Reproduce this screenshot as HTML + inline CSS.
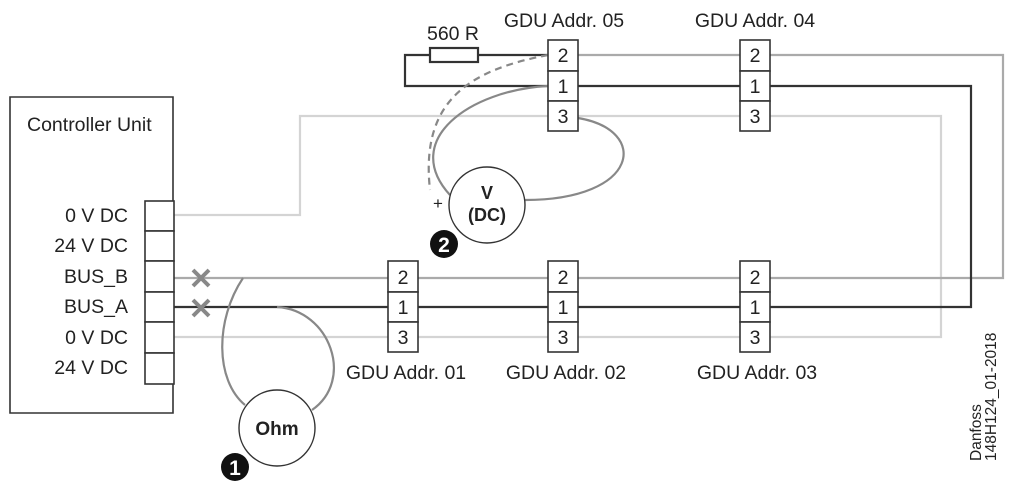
<!DOCTYPE html>
<html><head><meta charset="utf-8"><style>
html,body{margin:0;padding:0;background:#fff;}
svg{display:block;font-family:"Liberation Sans",sans-serif;}
</style></head><body>
<svg width="1024" height="488" viewBox="0 0 1024 488" xmlns="http://www.w3.org/2000/svg">
<g fill="none" stroke-width="2.2">
<polyline points="174,215 300,215 300,116 548,116" stroke="#d4d4d4"/>
<polyline points="578,116 740,116" stroke="#d4d4d4"/>
<polyline points="770,116 941,116 941,337 770,337" stroke="#d4d4d4"/>
<line x1="174" y1="337" x2="388" y2="337" stroke="#d4d4d4"/>
<line x1="418" y1="337" x2="548" y2="337" stroke="#d4d4d4"/>
<line x1="578" y1="337" x2="740" y2="337" stroke="#d4d4d4"/>
<line x1="174" y1="278" x2="388" y2="278" stroke="#aaa"/>
<line x1="418" y1="278" x2="548" y2="278" stroke="#aaa"/>
<line x1="578" y1="278" x2="740" y2="278" stroke="#aaa"/>
<polyline points="770,278 1003,278 1003,55 770,55" stroke="#aaa"/>
<line x1="578" y1="55" x2="740" y2="55" stroke="#aaa"/>
<line x1="174" y1="307" x2="388" y2="307" stroke="#333"/>
<line x1="418" y1="307" x2="548" y2="307" stroke="#333"/>
<line x1="578" y1="307" x2="740" y2="307" stroke="#333"/>
<polyline points="770,307 971,307 971,86 770,86" stroke="#333"/>
<line x1="578" y1="86" x2="740" y2="86" stroke="#333"/>
<polyline points="548,55 478,55" stroke="#333"/>
<polyline points="430,55 405,55 405,86 548,86" stroke="#333"/>
<rect x="430" y="48" width="48" height="14" stroke="#333" fill="#fff"/>
<path d="M548,55 C470,70 420,100 430,190" stroke="#888" stroke-dasharray="7,5"/>
<path d="M548,86 C470,90 400,140 450,195" stroke="#888"/>
<path d="M578,118 C650,130 640,200 525,200" stroke="#888"/>
<path d="M243,278 C215,320 215,380 245,405" stroke="#888"/>
<path d="M277,307 C330,310 355,380 312,410" stroke="#888"/>
</g>
<g stroke="#888" stroke-width="4">
<line x1="193" y1="270" x2="209" y2="286"/><line x1="209" y1="270" x2="193" y2="286"/>
<line x1="193" y1="300" x2="209" y2="316"/><line x1="209" y1="300" x2="193" y2="316"/>
</g>
<g fill="#fff" stroke="#333" stroke-width="1.6">
<path d="M173,201 V97 H10 V413 H173 V384" fill="none"/>
<rect x="145" y="201" width="29" height="30"/>
<rect x="145" y="231" width="29" height="30"/>
<rect x="145" y="261" width="29" height="31"/>
<rect x="145" y="292" width="29" height="30"/>
<rect x="145" y="322" width="29" height="31"/>
<rect x="145" y="353" width="29" height="31"/>
</g>
<g font-size="19.5" fill="#222">
<text x="27" y="131">Controller Unit</text>
<text x="128" y="222" text-anchor="end">0 V DC</text>
<text x="128" y="252" text-anchor="end">24 V DC</text>
<text x="128" y="283" text-anchor="end">BUS_B</text>
<text x="128" y="313" text-anchor="end">BUS_A</text>
<text x="128" y="344" text-anchor="end">0 V DC</text>
<text x="128" y="374" text-anchor="end">24 V DC</text>
</g>
<g fill="#fff" stroke="#333" stroke-width="1.6">
<rect x="388" y="261" width="30" height="31"/><rect x="388" y="292" width="30" height="30"/><rect x="388" y="322" width="30" height="30"/>
<rect x="548" y="261" width="30" height="31"/><rect x="548" y="292" width="30" height="30"/><rect x="548" y="322" width="30" height="30"/>
<rect x="740" y="261" width="30" height="31"/><rect x="740" y="292" width="30" height="30"/><rect x="740" y="322" width="30" height="30"/>
<rect x="548" y="40" width="30" height="31"/><rect x="548" y="71" width="30" height="30"/><rect x="548" y="101" width="30" height="30"/>
<rect x="740" y="40" width="30" height="31"/><rect x="740" y="71" width="30" height="30"/><rect x="740" y="101" width="30" height="30"/>
</g>
<g font-size="19.5" fill="#222" text-anchor="middle">
<text x="563" y="284">2</text><text x="563" y="314">1</text><text x="563" y="344">3</text>
<text x="403" y="284">2</text><text x="403" y="314">1</text><text x="403" y="344">3</text>
<text x="755" y="284">2</text><text x="755" y="314">1</text><text x="755" y="344">3</text>
<text x="563" y="62">2</text><text x="563" y="93">1</text><text x="563" y="123">3</text>
<text x="755" y="62">2</text><text x="755" y="93">1</text><text x="755" y="123">3</text>
<text x="406" y="379">GDU Addr. 01</text>
<text x="566" y="379">GDU Addr. 02</text>
<text x="757" y="379">GDU Addr. 03</text>
<text x="564" y="27">GDU Addr. 05</text>
<text x="755" y="27">GDU Addr. 04</text>
<text x="453" y="40">560 R</text>
</g>
<circle cx="487" cy="205" r="38" fill="#fff" stroke="#333" stroke-width="1.4"/>
<text x="487" y="199" font-size="18" font-weight="bold" text-anchor="middle" fill="#222">V</text>
<text x="487" y="221" font-size="18" font-weight="bold" text-anchor="middle" fill="#222">(DC)</text>
<text x="438" y="209" font-size="17" fill="#222" text-anchor="middle">+</text>
<circle cx="277" cy="428" r="38" fill="#fff" stroke="#333" stroke-width="1.4"/>
<text x="277" y="435" font-size="19" font-weight="bold" text-anchor="middle" fill="#222">Ohm</text>
<circle cx="235" cy="467" r="14" fill="#111"/>
<text x="235" y="475" font-size="21" font-weight="bold" text-anchor="middle" fill="#fff">1</text>
<circle cx="444" cy="244" r="14" fill="#111"/>
<text x="444" y="252" font-size="21" font-weight="bold" text-anchor="middle" fill="#fff">2</text>
<g font-size="15.5" fill="#222" transform="rotate(-90)">
<text x="-461" y="981">Danfoss</text>
<text x="-461" y="996">148H124_01-2018</text>
</g>
</svg>
</body></html>
